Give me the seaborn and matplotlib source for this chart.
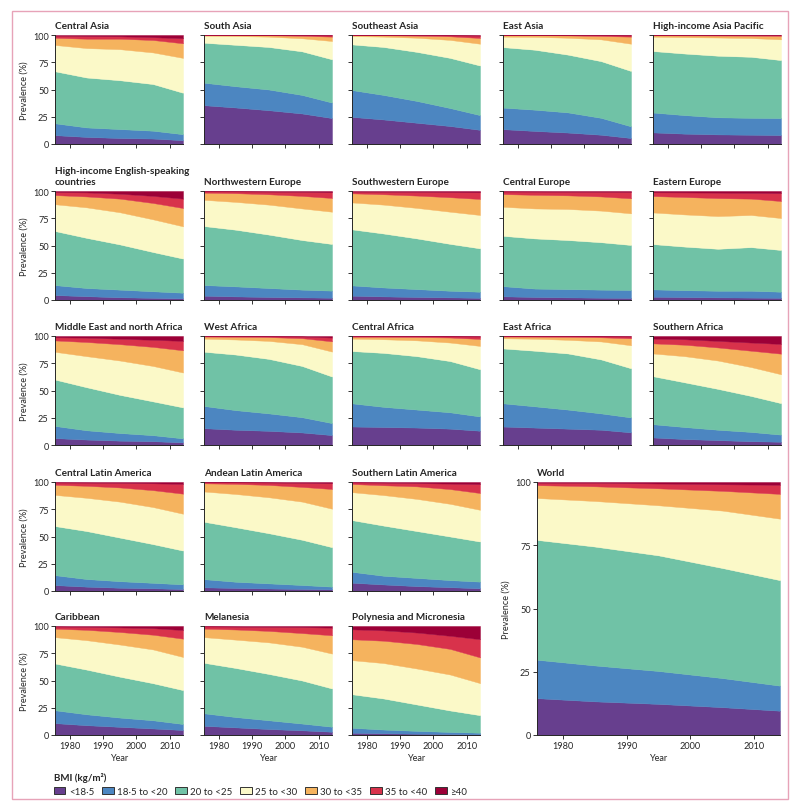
import matplotlib
matplotlib.use("Agg")
import matplotlib.pyplot as plt
from matplotlib import font_manager as fm
from matplotlib.patches import Patch, Rectangle
import numpy as np
import seaborn as sns

# ---------------- data (prevalence %, by BMI band) ----------------
YEARS = [1975, 1985, 1995, 2005, 2014]
REGIONS = [
    "Central Asia", "South Asia", "Southeast Asia", "East Asia", "High-income Asia Pacific",
    "High-income English-speaking\ncountries", "Northwestern Europe", "Southwestern Europe",
    "Central Europe", "Eastern Europe",
    "Middle East and north Africa", "West Africa", "Central Africa", "East Africa", "Southern Africa",
    "Central Latin America", "Andean Latin America", "Southern Latin America",
    "Caribbean", "Melanesia", "Polynesia and Micronesia", "World",
]
BMI_LABELS = ["<18·5", "18·5 to <20", "20 to <25", "25 to <30", "30 to <35", "35 to <40", "≥40"]
COLORS = ["#673f8e", "#4c86c1", "#70c2a6", "#fbf9c8", "#f5b35e", "#d8324b", "#9c0037"]

bmi_lt18_5 = [
    [8.2, 6.5, 5.5, 5.0, 3.5], [35.7, 33.5, 31.0, 28.0, 23.8], [25.0, 22.5, 19.5, 16.5, 13.0],
    [13.7, 12.0, 10.5, 8.5, 5.5], [10.7, 9.5, 8.8, 8.5, 8.2],
    [4.6, 3.5, 2.5, 2.0, 1.5], [4.0, 3.3, 2.8, 2.4, 2.1], [4.0, 3.3, 2.8, 2.4, 2.0],
    [3.4, 2.8, 2.4, 2.1, 1.9], [3.0, 2.7, 2.4, 2.2, 2.0],
    [6.4, 5.0, 4.0, 3.5, 2.4], [15.5, 14.0, 13.0, 11.5, 9.1], [17.0, 16.5, 16.0, 15.0, 13.1],
    [17.0, 16.0, 15.0, 14.0, 11.6], [7.0, 5.5, 4.5, 3.5, 3.0],
    [5.5, 4.0, 3.0, 2.5, 1.8], [3.4, 2.8, 2.3, 1.9, 1.5], [7.7, 6.0, 4.5, 3.5, 2.5],
    [11.0, 9.0, 7.5, 6.0, 4.6], [8.5, 7.0, 5.5, 4.3, 3.0], [2.1, 1.6, 1.2, 0.9, 0.6],
    [14.7, 13.3, 12.3, 11.0, 9.6],
]
bmi_18_5_20 = [
    [11.0, 8.7, 8.2, 7.2, 5.5], [20.7, 19.5, 19.0, 17.0, 14.2], [24.7, 22.5, 20.0, 16.5, 13.5],
    [19.8, 19.5, 18.5, 15.5, 10.7], [18.3, 17.0, 15.7, 15.5, 15.6],
    [9.2, 7.5, 7.0, 6.0, 5.2], [9.8, 9.2, 8.2, 7.1, 6.5], [9.5, 8.2, 7.2, 6.1, 5.6],
    [9.4, 7.7, 7.6, 7.4, 7.3], [6.8, 6.3, 6.1, 6.3, 5.6],
    [11.3, 8.5, 7.0, 5.5, 3.7], [20.5, 18.0, 16.0, 14.0, 11.0], [21.4, 18.5, 16.5, 15.0, 13.1],
    [21.4, 19.5, 17.5, 15.0, 13.7], [12.2, 11.0, 9.5, 8.5, 6.5],
    [9.2, 7.0, 6.0, 5.0, 4.3], [7.6, 5.7, 4.7, 3.6, 2.5], [10.1, 8.0, 7.5, 6.5, 6.1],
    [11.9, 10.0, 8.5, 7.5, 5.5], [11.6, 9.5, 8.0, 6.2, 4.6], [4.6, 3.4, 2.6, 1.9, 1.5],
    [15.3, 14.2, 13.0, 11.5, 9.9],
]
bmi_20_25 = [
    [47.8, 45.8, 44.8, 42.8, 38.0], [36.6, 38.0, 39.0, 40.0, 39.7], [41.8, 44.0, 45.0, 46.0, 45.5],
    [55.5, 55.0, 53.0, 52.0, 50.8], [56.4, 56.5, 56.5, 56.0, 53.2],
    [49.8, 46.0, 41.5, 36.0, 31.3], [54.2, 52.0, 49.0, 45.5, 42.8], [51.5, 49.5, 46.5, 43.0, 39.8],
    [46.2, 46.0, 45.0, 43.5, 41.3], [41.6, 40.0, 38.5, 40.0, 38.3],
    [42.7, 39.5, 35.0, 31.0, 28.4], [49.7, 51.0, 50.0, 47.0, 42.7], [47.9, 49.5, 49.0, 47.0, 43.3],
    [50.3, 51.0, 51.5, 49.5, 45.1], [44.2, 41.0, 37.5, 33.0, 28.9],
    [45.1, 44.0, 40.0, 35.5, 31.0], [52.8, 50.0, 46.0, 41.5, 36.2], [47.5, 46.0, 43.0, 40.0, 36.8],
    [43.0, 41.0, 37.5, 34.0, 31.1], [46.4, 45.0, 42.5, 39.5, 35.1], [30.9, 28.5, 24.2, 19.7, 16.1],
    [47.4, 47.0, 45.7, 43.5, 41.7],
]
bmi_25_30 = [
    [24.0, 27.0, 28.5, 29.0, 32.0], [6.4, 8.0, 9.5, 12.0, 16.8], [7.5, 9.5, 13.0, 16.5, 20.0],
    [9.5, 11.8, 15.5, 20.0, 25.0], [13.1, 15.0, 16.7, 17.2, 19.0],
    [24.4, 28.0, 29.5, 30.0, 29.6], [24.0, 25.5, 27.5, 29.0, 29.6], [24.6, 26.5, 28.0, 29.5, 30.6],
    [26.6, 27.5, 28.5, 29.0, 29.0], [29.0, 29.5, 30.0, 29.5, 29.3],
    [25.3, 28.5, 31.5, 32.5, 32.0], [11.9, 13.8, 16.5, 20.0, 22.9], [11.3, 12.5, 14.5, 17.0, 21.4],
    [9.2, 11.0, 12.5, 16.5, 21.1], [20.7, 24.0, 26.0, 26.5, 26.5],
    [28.5, 30.5, 33.0, 34.0, 33.8], [27.6, 30.5, 33.0, 35.0, 35.3], [25.5, 28.0, 29.5, 30.0, 29.1],
    [24.0, 27.0, 29.5, 31.0, 30.4], [23.4, 26.0, 29.0, 31.0, 32.0], [31.2, 32.5, 33.0, 33.0, 29.4],
    [16.4, 18.0, 19.8, 22.7, 24.3],
]
bmi_30_35 = [
    [6.5, 8.6, 9.6, 11.4, 13.4], [0.4, 0.8, 1.2, 2.3, 4.0], [0.8, 1.2, 1.9, 3.3, 5.3],
    [1.3, 1.5, 2.1, 3.1, 6.5], [1.2, 1.6, 1.8, 2.2, 3.2],
    [8.3, 10.0, 12.5, 15.0, 16.8], [6.5, 8.0, 9.5, 11.5, 12.6], [8.3, 9.5, 11.3, 13.3, 14.7],
    [11.6, 12.5, 12.5, 13.0, 13.8], [15.0, 16.0, 16.5, 15.0, 15.6],
    [10.3, 13.0, 15.0, 17.5, 20.4], [1.9, 2.5, 3.5, 5.5, 9.4], [1.7, 2.2, 3.0, 4.6, 6.4],
    [1.6, 1.9, 2.7, 3.8, 6.4], [9.2, 10.5, 12.0, 15.0, 18.9],
    [9.2, 11.0, 13.0, 15.5, 18.4], [7.4, 9.3, 11.3, 13.5, 18.1], [7.4, 9.0, 11.5, 13.5, 15.4],
    [7.7, 9.5, 11.5, 13.5, 16.8], [7.7, 9.3, 10.5, 12.5, 16.8], [19.1, 20.5, 22.5, 23.5, 23.6],
    [5.0, 5.8, 6.7, 7.8, 9.8],
]
bmi_35_40 = [
    [1.9, 2.4, 2.2, 2.6, 4.6], [0.15, 0.15, 0.2, 0.5, 1.1], [0.17, 0.25, 0.5, 0.9, 2.1],
    [0.15, 0.15, 0.3, 0.7, 1.1], [0.25, 0.35, 0.4, 0.5, 0.65],
    [2.7, 3.7, 4.5, 6.5, 8.6], [1.2, 1.6, 2.4, 3.7, 5.2], [1.5, 2.3, 3.4, 4.7, 6.1],
    [2.3, 2.9, 3.3, 4.2, 5.7], [3.4, 4.2, 5.0, 5.3, 7.2],
    [2.8, 4.0, 5.0, 6.5, 8.6], [0.4, 0.55, 0.7, 1.5, 3.5], [0.6, 0.7, 0.85, 1.1, 2.2],
    [0.4, 0.5, 0.65, 0.9, 1.6], [4.3, 5.0, 6.0, 7.5, 8.9],
    [2.0, 2.9, 4.2, 6.3, 8.9], [1.0, 1.4, 2.2, 3.7, 5.2], [1.4, 2.4, 3.0, 5.0, 8.1],
    [1.9, 2.7, 4.2, 6.0, 7.9], [2.0, 2.6, 3.7, 5.5, 7.0], [9.1, 9.5, 10.5, 12.0, 16.7],
    [0.9, 1.4, 1.9, 2.6, 3.6],
]
bmi_ge40 = [
    [0.6, 1.0, 1.2, 2.0, 3.0], [0.05, 0.05, 0.1, 0.2, 0.4], [0.03, 0.05, 0.1, 0.3, 0.6],
    [0.05, 0.05, 0.1, 0.2, 0.4], [0.05, 0.05, 0.1, 0.1, 0.15],
    [1.0, 1.3, 2.5, 4.5, 7.0], [0.3, 0.4, 0.6, 0.8, 1.2], [0.6, 0.7, 0.8, 1.0, 1.2],
    [0.5, 0.6, 0.7, 0.8, 1.0], [1.2, 1.3, 1.5, 1.7, 2.0],
    [1.2, 1.5, 2.5, 3.5, 4.5], [0.1, 0.15, 0.3, 0.5, 1.4], [0.1, 0.1, 0.15, 0.3, 0.5],
    [0.1, 0.1, 0.15, 0.3, 0.5], [2.4, 3.0, 4.5, 6.0, 7.3],
    [0.5, 0.6, 0.8, 1.2, 1.8], [0.2, 0.3, 0.5, 0.8, 1.2], [0.4, 0.6, 1.0, 1.5, 2.0],
    [0.5, 0.8, 1.3, 2.0, 3.7], [0.4, 0.6, 0.8, 1.0, 1.5], [3.0, 4.0, 6.0, 9.0, 12.1],
    [0.3, 0.3, 0.6, 0.9, 1.1],
]
BANDS = [bmi_lt18_5, bmi_18_5_20, bmi_20_25, bmi_25_30, bmi_30_35, bmi_35_40, bmi_ge40]

# ---------------- style ----------------
sns.set_theme(style="ticks")
names = {f.name for f in fm.fontManager.ttflist}
main_font = "Liberation Sans Narrow" if "Liberation Sans Narrow" in names else "Lato"
plt.rcParams["font.family"] = [main_font, "DejaVu Sans"]
plt.rcParams["axes.linewidth"] = 0.7

W, H = 800, 812
fig = plt.figure(figsize=(W / 100, H / 100), dpi=100)

# pink frame
fig.patches.append(Rectangle((12 / W, 1 - 800 / H), 776 / W, 788 / H, transform=fig.transFigure,
                             fill=False, edgecolor="#e7a3b8", linewidth=1.0, zorder=0))

COL_X = [55, 204, 352, 503, 653]
ROW_Y = [36, 192, 337, 483, 627]
AW, AH = 128, 109

TICK_FS = 6.6
TITLE_FS = 7.2


def style_axes(ax, show_x, show_y, xmin):
    ax.set_xlim(xmin, 2014)
    ax.set_ylim(0, 100)
    ax.set_xticks([1980, 1990, 2000, 2010])
    ax.set_yticks([0, 25, 50, 75, 100])
    ax.tick_params(direction="out", length=3, width=0.7, labelsize=TICK_FS, pad=1.5, color="#333333")
    sns.despine(ax=ax)
    if show_x:
        ax.set_xlabel("Year", fontsize=TICK_FS, labelpad=2)
    else:
        ax.set_xticklabels([])
        ax.set_xlabel("")
    if show_y:
        ax.set_ylabel("Prevalence (%)", fontsize=TICK_FS, labelpad=3)
    else:
        ax.set_yticklabels([])
        ax.set_ylabel("")


def draw(ax, idx):
    ys = [BANDS[b][idx] for b in range(7)]
    ax.stackplot(YEARS, ys, colors=COLORS, edgecolor="face", linewidth=0.3)


for i in range(21):
    if i < 15:
        r, c = divmod(i, 5)
    else:
        r, c = 3 + (i - 15) // 3, (i - 15) % 3
    x0, y0 = COL_X[c], ROW_Y[r]
    ax = fig.add_axes([x0 / W, 1 - (y0 + AH) / H, AW / W, AH / H])
    draw(ax, i)
    style_axes(ax, show_x=(r == 4), show_y=(c == 0), xmin=1975.5)
    ax.text(0.0, 1.05, REGIONS[i], transform=ax.transAxes, ha="left", va="bottom",
            fontsize=TITLE_FS, fontweight="bold", linespacing=1.15)

# World panel
axw = fig.add_axes([537 / W, 1 - 736 / H, 243 / W, 253 / H])
draw(axw, 21)
style_axes(axw, show_x=True, show_y=True, xmin=1976)
axw.text(0.0, 1.02, "World", transform=axw.transAxes, ha="left", va="bottom",
         fontsize=TITLE_FS, fontweight="bold")

# legend
handles = [Patch(facecolor=col, edgecolor="#333333", linewidth=0.7) for col in COLORS]
leg = fig.legend(handles, BMI_LABELS, loc="upper left", bbox_to_anchor=(47 / W, 1 - 766 / H),
                 ncol=7, frameon=False, fontsize=7.0, handlelength=1.2, handleheight=0.8,
                 handletextpad=0.35, columnspacing=0.8, title="BMI (kg/m²)", alignment="left",
                 borderpad=0.2)
leg.get_title().set_fontweight("bold")
leg.get_title().set_fontsize(7.0)

fig.savefig("out.png", dpi=100)
